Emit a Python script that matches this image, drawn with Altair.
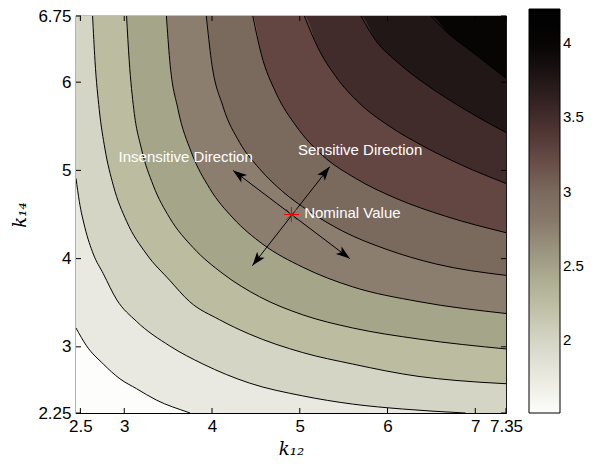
import math
import altair as alt
import pandas as pd

# ---------------- axes ----------------
k12_lim = [2.45, 7.35]
k14_lim = [2.25, 6.75]
k12_ticks = [2.5, 3, 4, 5, 6, 7, 7.35]
k14_ticks = [2.25, 3, 4, 5, 6, 6.75]

# ---------------- contour levels & colours ----------------
levels = [1.75, 2.0, 2.25, 2.5, 2.75, 3.0, 3.25, 3.5, 3.75, 4.0]
lowest_value = 1.51
cbar_values = [1.51, 1.75, 2.0, 2.25, 2.5, 2.75, 3.0, 3.25, 3.5, 3.75, 4.0, 4.23]
cbar_colors = ["#fdfdfb", "#e9e9e1", "#d5d5c5", "#bcbca1", "#a5a589", "#8b7e6f",
               "#7a695d", "#634641", "#422b2b", "#211717", "#070404", "#000000"]
cbar_ticks = [2, 2.5, 3, 3.5, 4]

# ---------------- contour lines (k12, k14) ----------------
c1_k12 = [2.45, 2.571, 2.761, 2.95, 3.139, 3.367, 3.727, 3.75]
c1_k14 = [3.214, 3.01, 2.805, 2.638, 2.526, 2.396, 2.258, 2.25]
c2_k12 = [2.45, 2.488, 2.552, 2.647, 2.761, 2.916, 3.139, 3.518, 3.897, 4.427, 5.033, 5.602, 6.17, 6.889]
c2_k14 = [4.91, 4.647, 4.35, 4.052, 3.829, 3.531, 3.289, 3.01, 2.805, 2.589, 2.444, 2.351, 2.295, 2.25]
c3_k12 = [2.639, 2.666, 2.715, 2.78, 2.874, 3.026, 3.253, 3.518, 3.745, 4.086, 4.427, 5.033, 5.602, 6.359, 6.78, 7.35]
c3_k14 = [6.75, 6.248, 5.689, 5.243, 4.833, 4.424, 4.052, 3.754, 3.512, 3.307, 3.144, 2.935, 2.805, 2.664, 2.619, 2.582]
c4_k12 = [3.026, 3.056, 3.109, 3.196, 3.329, 3.518, 3.783, 4.124, 4.541, 5.033, 5.602, 6.359, 7.35]
c4_k14 = [6.75, 6.248, 5.689, 5.243, 4.833, 4.461, 4.126, 3.829, 3.568, 3.363, 3.214, 3.088, 2.976]
c5_k12 = [3.48, 3.518, 3.613, 3.764, 3.973, 4.238, 4.579, 5.033, 5.602, 6.359, 7.35]
c5_k14 = [6.75, 6.248, 5.689, 5.206, 4.796, 4.461, 4.163, 3.903, 3.68, 3.512, 3.378]
c6_k12 = [3.935, 3.992, 4.124, 4.314, 4.541, 4.806, 5.109, 5.488, 5.98, 6.548, 7.35]
c6_k14 = [6.75, 6.248, 5.727, 5.317, 5.019, 4.759, 4.536, 4.312, 4.108, 3.94, 3.81]
c7_k12 = [4.465, 4.56, 4.73, 4.958, 5.261, 5.639, 6.094, 6.662, 7.35]
c7_k14 = [6.75, 6.322, 5.876, 5.503, 5.168, 4.908, 4.684, 4.48, 4.294]
c8_k12 = [5.052, 5.204, 5.412, 5.677, 6.018, 6.397, 6.852, 7.35]
c8_k14 = [6.75, 6.396, 6.061, 5.764, 5.503, 5.28, 5.057, 4.852]
c9_k12 = [5.696, 5.867, 6.132, 6.473, 6.852, 7.35]
c9_k14 = [6.75, 6.471, 6.21, 5.95, 5.708, 5.429]
c10_k12 = [6.492, 6.7, 6.965, 7.35]
c10_k14 = [6.75, 6.545, 6.341, 6.043]

contours = [(c1_k12, c1_k14), (c2_k12, c2_k14), (c3_k12, c3_k14), (c4_k12, c4_k14),
            (c5_k12, c5_k14), (c6_k12, c6_k14), (c7_k12, c7_k14), (c8_k12, c8_k14),
            (c9_k12, c9_k14), (c10_k12, c10_k14)]

# ---------------- annotations ----------------
nominal_k12 = [4.905]
nominal_k14 = [4.5]
insens_k12 = [4.24, 5.57]
insens_k14 = [5.0, 4.0]
sens_k12 = [4.46, 5.34]
sens_k14 = [3.92, 5.04]
label_text = ["Insensitive Direction", "Sensitive Direction", "Nominal Value"]
label_k12 = [2.935, 4.98, 5.05]
label_k14 = [5.157, 5.231, 4.514]

# ---------------- layout ----------------
W, H = 430, 397
PAD = {"left": 68, "top": 8, "right": 80, "bottom": 44}
sx = W / (k12_lim[1] - k12_lim[0])
sy = H / (k14_lim[1] - k14_lim[0])

FONT = "Liberation Sans"
xscale = alt.Scale(domain=k12_lim, nice=False, zero=False)
yscale = alt.Scale(domain=k14_lim, nice=False, zero=False)
cscale = alt.Scale(domain=cbar_values, range=cbar_colors, interpolate="rgb")

x_axis = alt.Axis(values=k12_ticks, format=".3~g", ticks=False, domain=False, grid=False,
                  labelFont=FONT, labelFontSize=17, labelPadding=5, labelFlush=False,
                  labelOverlap=False, labelColor="black",
                  title="k\u2081\u2082", titleFont="DejaVu Serif", titleFontStyle="italic",
                  titleFontWeight="normal", titleFontSize=18, titlePadding=6, titleColor="black")
y_axis = alt.Axis(values=k14_ticks, format=".3~g", ticks=False, domain=False, grid=False,
                  labelFont=FONT, labelFontSize=17, labelPadding=5, labelFlush=False,
                  labelOverlap=False, labelColor="black",
                  title="k\u2081\u2084", titleFont="DejaVu Serif", titleFontStyle="italic",
                  titleFontWeight="normal", titleFontSize=18, titlePadding=8, titleColor="black")

X = alt.X("k12:Q", scale=xscale, axis=x_axis)
Y = alt.Y("k14:Q", scale=yscale, axis=y_axis)

legend = alt.Legend(orient="none", legendX=453, legendY=-7, direction="vertical",
                    gradientLength=404, gradientThickness=31, gradientStrokeColor="black",
                    gradientStrokeWidth=1, values=cbar_ticks, format=".2~g",
                    labelFont=FONT, labelFontSize=15, labelOffset=3, labelColor="black",
                    labelOverlap=False, title=None, padding=0)

# ---------------- filled bands ----------------
layers = []
base = pd.DataFrame({"k12": [k12_lim[0], k12_lim[1]], "k14": [k14_lim[0], k14_lim[0]],
                     "top": [k14_lim[1]] * 2, "value": [lowest_value] * 2})
band_frames = [base]
for lev, (xs, ys) in zip(levels, contours):
    xs2, ys2 = list(xs), list(ys)
    if ys2[0] >= k14_lim[1]:
        xs2 = [k12_lim[0]] + xs2
        ys2 = [k14_lim[1]] + ys2
    if ys2[-1] <= k14_lim[0]:
        xs2 = xs2 + [k12_lim[1]]
        ys2 = ys2 + [k14_lim[0]]
    band_frames.append(pd.DataFrame({"k12": xs2, "k14": ys2, "top": k14_lim[1], "value": lev}))

for df in band_frames:
    layers.append(
        alt.Chart(df).mark_area(clip=True, interpolate="monotone", strokeWidth=0).encode(
            x=X, y=Y, y2="top:Q",
            color=alt.Color("value:Q", scale=cscale, legend=legend),
        )
    )

# ---------------- contour lines ----------------
line_rows = []
for lev, (xs, ys) in zip(levels, contours):
    for a, b in zip(xs, ys):
        line_rows.append({"k12": a, "k14": b, "level": lev})
lines_df = pd.DataFrame(line_rows)
layers.append(
    alt.Chart(lines_df).mark_line(color="black", strokeWidth=1, clip=True,
                                  interpolate="monotone").encode(
        x=X, y=Y, detail="level:N")
)

# ---------------- arrows ----------------
arrow_df = pd.DataFrame({
    "k12": insens_k12 + sens_k12,
    "k14": insens_k14 + sens_k14,
    "arrow": ["insens", "insens", "sens", "sens"],
})
layers.append(alt.Chart(arrow_df).mark_line(color="black", strokeWidth=1).encode(
    x=X, y=Y, detail="arrow:N"))


def head_angle(px, py, qx, qy):
    dx = (px - qx) * sx
    dy = -(py - qy) * sy
    return math.degrees(math.atan2(dx, -dy)) % 360


heads = []
for xs, ys in [(insens_k12, insens_k14), (sens_k12, sens_k14)]:
    heads.append({"k12": xs[0], "k14": ys[0], "angle": head_angle(xs[0], ys[0], xs[1], ys[1])})
    heads.append({"k12": xs[1], "k14": ys[1], "angle": head_angle(xs[1], ys[1], xs[0], ys[0])})
heads_df = pd.DataFrame(heads)
HEAD = "M0,0 L0.55,1.6 L0,1.22 L-0.55,1.6 Z"
layers.append(alt.Chart(heads_df).mark_point(shape=HEAD, filled=True, color="black",
                                             opacity=1, size=300, strokeWidth=0).encode(
    x=X, y=Y, angle=alt.Angle("angle:Q", scale=None)))

# ---------------- nominal point ----------------
nom_df = pd.DataFrame({"k12": nominal_k12, "k14": nominal_k14})
STAR = "M-1,0L1,0M0,-1L0,1M-0.7,-0.7L0.7,0.7M-0.7,0.7L0.7,-0.7"
layers.append(alt.Chart(nom_df).mark_point(shape=STAR, filled=False, color="red",
                                           opacity=1, size=230, strokeWidth=1).encode(x=X, y=Y))

# ---------------- text labels ----------------
txt_df = pd.DataFrame({"k12": label_k12, "k14": label_k14, "label": label_text})
layers.append(alt.Chart(txt_df).mark_text(align="left", baseline="middle", color="white",
                                          font=FONT, fontSize=15).encode(
    x=X, y=Y, text="label:N"))

# ---------------- inward ticks on all four sides ----------------
xt = pd.DataFrame({"k12": k12_ticks})
yt = pd.DataFrame({"k14": k14_ticks})
TL = 5
layers.append(alt.Chart(xt).mark_rule(color="black", strokeWidth=1).encode(
    x=X, y=alt.value(H), y2=alt.value(H - TL)))
layers.append(alt.Chart(xt).mark_rule(color="black", strokeWidth=1).encode(
    x=X, y=alt.value(0), y2=alt.value(TL)))
layers.append(alt.Chart(yt).mark_rule(color="black", strokeWidth=1).encode(
    y=Y, x=alt.value(0), x2=alt.value(TL)))
layers.append(alt.Chart(yt).mark_rule(color="black", strokeWidth=1).encode(
    y=Y, x=alt.value(W), x2=alt.value(W - TL)))

chart = alt.layer(*layers).properties(
    width=W, height=H,
    autosize=alt.AutoSizeParams(type="none"),
    padding=PAD,
    background="white",
).configure_view(stroke="black", strokeWidth=1.2)

chart.save("out.html", embed_options={"renderer": "svg", "actions": False})
